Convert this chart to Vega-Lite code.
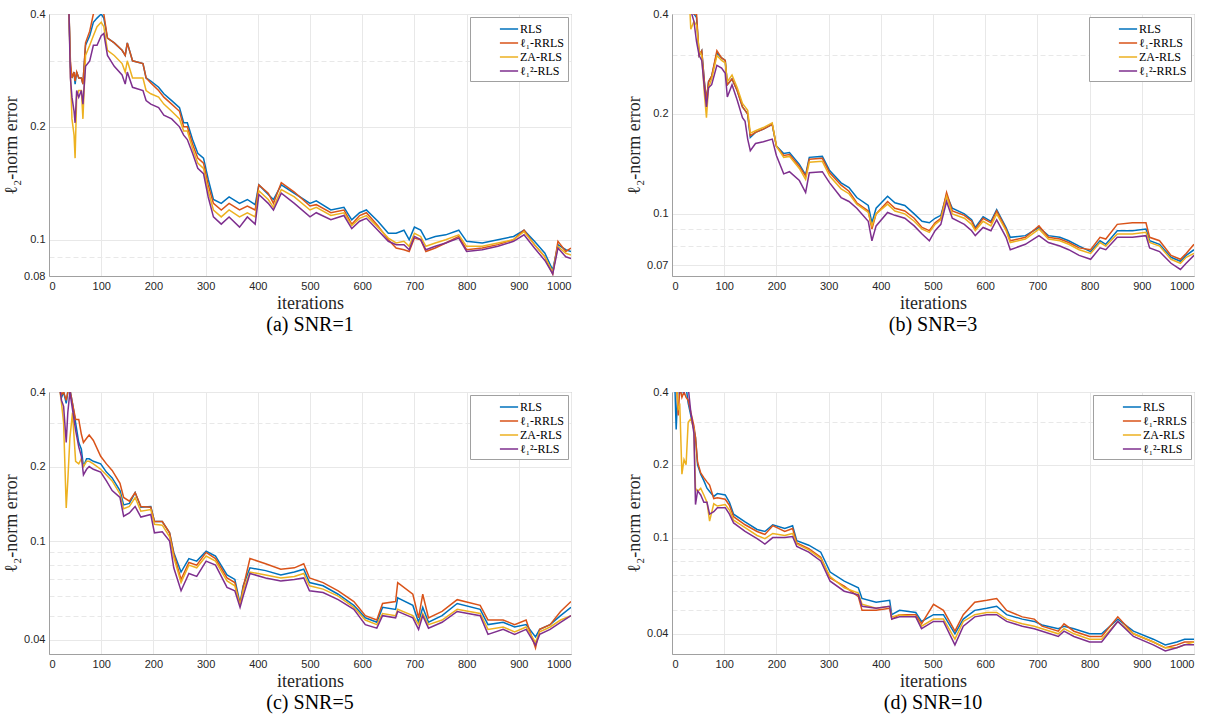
{
"$schema": "https://vega.github.io/schema/vega-lite/v6.json",
"background": "white",
"padding": {"left": 2, "top": 7, "right": 2, "bottom": 2},
"spacing": 49,
"resolve": {"scale": {"color": "independent", "y": "independent"}, "legend": {"color": "independent"}},
"config": {
 "view": {"stroke": "#a0a0a0"},
 "style": {"guide-title": {"font": "Liberation Serif", "fontSize": 18, "fontWeight": "normal", "fill": "#262626"}, "guide-label": {"font": "Liberation Sans", "fontSize": 11, "fill": "#262626"}},
 "axis": {"domainColor": "#a0a0a0", "gridColor": "#e8e8e8", "ticks": false, "labelFont": "Liberation Sans", "labelFontSize": 11, "labelColor": "#262626", "titleFont": "Liberation Serif", "titleFontSize": 18, "titleFontWeight": "normal", "titleColor": "#262626", "labelPadding": 4, "titlePadding": 3},
 "legend": {"orient": "top-right", "offset": 3, "strokeColor": "#a0a0a0", "fillColor": "white", "padding": 4, "symbolType": "M-1.3,0H1.3", "symbolSize": 196, "symbolStrokeWidth": 1.6, "symbolOffset": 27, "labelFont": "Liberation Serif", "labelFontSize": 12, "labelColor": "black", "rowPadding": 0, "labelOffset": 3},
 "title": {"orient": "bottom", "font": "Liberation Serif", "fontSize": 20, "fontWeight": "normal", "color": "black", "offset": 3, "anchor": "middle", "frame": "group"},
 "line": {"strokeWidth": 1.5, "clip": true}
},
"datasets": {
"a": [
{"x":1,"R":0.9,"O":0.9,"Z":0.9,"P":0.9},
{"x":38,"R":0.42,"O":0.42,"Z":0.42,"P":0.42},
{"x":41,"R":0.29,"O":0.3,"Z":0.28,"P":0.27},
{"x":44,"R":0.27,"O":0.27,"Z":0.21,"P":0.24},
{"x":48,"R":0.28,"O":0.28,"Z":0.19,"P":0.22},
{"x":50,"R":0.26,"O":0.265,"Z":0.165,"P":0.205},
{"x":53,"R":0.28,"O":0.28,"Z":0.24,"P":0.25},
{"x":57,"R":0.27,"O":0.27,"Z":0.25,"P":0.24},
{"x":62,"R":0.27,"O":0.27,"Z":0.25,"P":0.25},
{"x":65,"R":0.26,"O":0.26,"Z":0.21,"P":0.23},
{"x":70,"R":0.33,"O":0.335,"Z":0.31,"P":0.29},
{"x":78,"R":0.35,"O":0.36,"Z":0.33,"P":0.3},
{"x":85,"R":0.38,"O":0.4,"Z":0.35,"P":0.33},
{"x":92,"R":0.39,"O":0.41,"Z":0.37,"P":0.33},
{"x":100,"R":0.4,"O":0.41,"Z":0.38,"P":0.35},
{"x":105,"R":0.39,"O":0.4,"Z":0.37,"P":0.355},
{"x":112,"R":0.345,"O":0.345,"Z":0.32,"P":0.31},
{"x":125,"R":0.335,"O":0.335,"Z":0.31,"P":0.29},
{"x":140,"R":0.32,"O":0.32,"Z":0.295,"P":0.275},
{"x":146,"R":0.31,"O":0.31,"Z":0.28,"P":0.26},
{"x":150,"R":0.335,"O":0.335,"Z":0.3,"P":0.28},
{"x":160,"R":0.3,"O":0.3,"Z":0.27,"P":0.255},
{"x":180,"R":0.295,"O":0.295,"Z":0.27,"P":0.25},
{"x":186,"R":0.27,"O":0.27,"Z":0.25,"P":0.235},
{"x":195,"R":0.265,"O":0.262,"Z":0.245,"P":0.23},
{"x":210,"R":0.255,"O":0.25,"Z":0.24,"P":0.225},
{"x":220,"R":0.245,"O":0.24,"Z":0.23,"P":0.215},
{"x":235,"R":0.235,"O":0.23,"Z":0.22,"P":0.21},
{"x":250,"R":0.225,"O":0.22,"Z":0.21,"P":0.2},
{"x":258,"R":0.205,"O":0.2,"Z":0.195,"P":0.19},
{"x":265,"R":0.205,"O":0.2,"Z":0.195,"P":0.185},
{"x":275,"R":0.185,"O":0.18,"Z":0.175,"P":0.17},
{"x":285,"R":0.17,"O":0.165,"Z":0.16,"P":0.155},
{"x":296,"R":0.165,"O":0.16,"Z":0.155,"P":0.15},
{"x":305,"R":0.145,"O":0.14,"Z":0.135,"P":0.13},
{"x":315,"R":0.128,"O":0.125,"Z":0.12,"P":0.115},
{"x":330,"R":0.125,"O":0.12,"Z":0.115,"P":0.11},
{"x":345,"R":0.13,"O":0.125,"Z":0.12,"P":0.115},
{"x":365,"R":0.125,"O":0.12,"Z":0.115,"P":0.108},
{"x":380,"R":0.128,"O":0.123,"Z":0.118,"P":0.115},
{"x":395,"R":0.124,"O":0.12,"Z":0.115,"P":0.11},
{"x":402,"R":0.14,"O":0.14,"Z":0.135,"P":0.132},
{"x":420,"R":0.132,"O":0.133,"Z":0.128,"P":0.125},
{"x":430,"R":0.128,"O":0.125,"Z":0.122,"P":0.12},
{"x":445,"R":0.14,"O":0.142,"Z":0.136,"P":0.133},
{"x":470,"R":0.133,"O":0.134,"Z":0.13,"P":0.125},
{"x":500,"R":0.125,"O":0.123,"Z":0.12,"P":0.115},
{"x":512,"R":0.127,"O":0.124,"Z":0.122,"P":0.118},
{"x":540,"R":0.12,"O":0.118,"Z":0.116,"P":0.113},
{"x":565,"R":0.122,"O":0.12,"Z":0.118,"P":0.116},
{"x":580,"R":0.113,"O":0.11,"Z":0.109,"P":0.107},
{"x":595,"R":0.118,"O":0.116,"Z":0.114,"P":0.112},
{"x":608,"R":0.12,"O":0.118,"Z":0.116,"P":0.114},
{"x":630,"R":0.112,"O":0.109,"Z":0.108,"P":0.106},
{"x":650,"R":0.104,"O":0.1,"Z":0.101,"P":0.099},
{"x":665,"R":0.104,"O":0.095,"Z":0.098,"P":0.097},
{"x":680,"R":0.106,"O":0.094,"Z":0.099,"P":0.097},
{"x":690,"R":0.1,"O":0.093,"Z":0.096,"P":0.094},
{"x":700,"R":0.108,"O":0.101,"Z":0.104,"P":0.102},
{"x":712,"R":0.106,"O":0.1,"Z":0.102,"P":0.1},
{"x":722,"R":0.1,"O":0.093,"Z":0.096,"P":0.094},
{"x":740,"R":0.102,"O":0.095,"Z":0.098,"P":0.096},
{"x":760,"R":0.103,"O":0.098,"Z":0.1,"P":0.098},
{"x":785,"R":0.106,"O":0.102,"Z":0.103,"P":0.101},
{"x":800,"R":0.099,"O":0.094,"Z":0.096,"P":0.093},
{"x":830,"R":0.098,"O":0.095,"Z":0.096,"P":0.094},
{"x":860,"R":0.1,"O":0.097,"Z":0.098,"P":0.096},
{"x":890,"R":0.102,"O":0.1,"Z":0.1,"P":0.099},
{"x":910,"R":0.106,"O":0.106,"Z":0.105,"P":0.103},
{"x":930,"R":0.099,"O":0.097,"Z":0.097,"P":0.095},
{"x":950,"R":0.092,"O":0.09,"Z":0.09,"P":0.088},
{"x":965,"R":0.083,"O":0.081,"Z":0.082,"P":0.081},
{"x":975,"R":0.097,"O":0.099,"Z":0.096,"P":0.095},
{"x":990,"R":0.094,"O":0.093,"Z":0.092,"P":0.09},
{"x":1000,"R":0.093,"O":0.095,"Z":0.091,"P":0.089}
],
"b": [
{"x":1,"R":0.9,"O":0.9,"Z":0.9,"P":0.9},
{"x":34,"R":0.45,"O":0.45,"Z":0.42,"P":0.45},
{"x":36,"R":0.42,"O":0.42,"Z":0.36,"P":0.41},
{"x":42,"R":0.4,"O":0.4,"Z":0.38,"P":0.38},
{"x":47,"R":0.39,"O":0.4,"Z":0.37,"P":0.33},
{"x":52,"R":0.3,"O":0.3,"Z":0.31,"P":0.3},
{"x":57,"R":0.31,"O":0.31,"Z":0.3,"P":0.29},
{"x":62,"R":0.25,"O":0.25,"Z":0.23,"P":0.24},
{"x":66,"R":0.22,"O":0.22,"Z":0.195,"P":0.21},
{"x":70,"R":0.25,"O":0.25,"Z":0.24,"P":0.24},
{"x":76,"R":0.26,"O":0.26,"Z":0.255,"P":0.245},
{"x":86,"R":0.305,"O":0.31,"Z":0.3,"P":0.28},
{"x":95,"R":0.295,"O":0.295,"Z":0.29,"P":0.275},
{"x":102,"R":0.29,"O":0.29,"Z":0.285,"P":0.265},
{"x":106,"R":0.245,"O":0.245,"Z":0.25,"P":0.225},
{"x":115,"R":0.255,"O":0.255,"Z":0.262,"P":0.245},
{"x":125,"R":0.235,"O":0.235,"Z":0.24,"P":0.22},
{"x":135,"R":0.21,"O":0.21,"Z":0.215,"P":0.195},
{"x":140,"R":0.205,"O":0.205,"Z":0.21,"P":0.19},
{"x":145,"R":0.2,"O":0.2,"Z":0.205,"P":0.168},
{"x":150,"R":0.17,"O":0.172,"Z":0.175,"P":0.155},
{"x":160,"R":0.176,"O":0.176,"Z":0.178,"P":0.163},
{"x":175,"R":0.18,"O":0.18,"Z":0.182,"P":0.165},
{"x":192,"R":0.186,"O":0.186,"Z":0.188,"P":0.168},
{"x":200,"R":0.16,"O":0.16,"Z":0.16,"P":0.15},
{"x":214,"R":0.152,"O":0.15,"Z":0.148,"P":0.132},
{"x":225,"R":0.153,"O":0.151,"Z":0.149,"P":0.134},
{"x":244,"R":0.141,"O":0.139,"Z":0.137,"P":0.126},
{"x":256,"R":0.131,"O":0.13,"Z":0.127,"P":0.116},
{"x":263,"R":0.148,"O":0.146,"Z":0.143,"P":0.133},
{"x":288,"R":0.149,"O":0.147,"Z":0.144,"P":0.134},
{"x":302,"R":0.135,"O":0.133,"Z":0.13,"P":0.124},
{"x":324,"R":0.124,"O":0.122,"Z":0.119,"P":0.112},
{"x":339,"R":0.12,"O":0.117,"Z":0.115,"P":0.109},
{"x":354,"R":0.112,"O":0.108,"Z":0.107,"P":0.104},
{"x":376,"R":0.106,"O":0.102,"Z":0.101,"P":0.095},
{"x":383,"R":0.094,"O":0.09,"Z":0.092,"P":0.083},
{"x":391,"R":0.104,"O":0.1,"Z":0.1,"P":0.092},
{"x":413,"R":0.113,"O":0.109,"Z":0.107,"P":0.101},
{"x":427,"R":0.108,"O":0.104,"Z":0.102,"P":0.099},
{"x":446,"R":0.106,"O":0.102,"Z":0.1,"P":0.097},
{"x":464,"R":0.1,"O":0.097,"Z":0.095,"P":0.092},
{"x":479,"R":0.095,"O":0.091,"Z":0.09,"P":0.087},
{"x":493,"R":0.094,"O":0.089,"Z":0.088,"P":0.083},
{"x":504,"R":0.097,"O":0.094,"Z":0.093,"P":0.089},
{"x":515,"R":0.099,"O":0.097,"Z":0.096,"P":0.093},
{"x":526,"R":0.114,"O":0.116,"Z":0.113,"P":0.109},
{"x":537,"R":0.104,"O":0.102,"Z":0.1,"P":0.097},
{"x":560,"R":0.1,"O":0.099,"Z":0.097,"P":0.093},
{"x":574,"R":0.096,"O":0.095,"Z":0.093,"P":0.089},
{"x":581,"R":0.091,"O":0.09,"Z":0.089,"P":0.086},
{"x":596,"R":0.098,"O":0.097,"Z":0.095,"P":0.091},
{"x":611,"R":0.095,"O":0.094,"Z":0.092,"P":0.089},
{"x":622,"R":0.103,"O":0.102,"Z":0.1,"P":0.096},
{"x":640,"R":0.091,"O":0.09,"Z":0.089,"P":0.085},
{"x":648,"R":0.085,"O":0.083,"Z":0.082,"P":0.078},
{"x":677,"R":0.086,"O":0.085,"Z":0.084,"P":0.081},
{"x":703,"R":0.091,"O":0.092,"Z":0.09,"P":0.086},
{"x":721,"R":0.086,"O":0.085,"Z":0.084,"P":0.082},
{"x":743,"R":0.085,"O":0.084,"Z":0.083,"P":0.08},
{"x":760,"R":0.083,"O":0.082,"Z":0.081,"P":0.078},
{"x":780,"R":0.08,"O":0.079,"Z":0.078,"P":0.075},
{"x":802,"R":0.077,"O":0.078,"Z":0.076,"P":0.073},
{"x":820,"R":0.083,"O":0.085,"Z":0.082,"P":0.079},
{"x":831,"R":0.081,"O":0.084,"Z":0.08,"P":0.078},
{"x":853,"R":0.089,"O":0.093,"Z":0.087,"P":0.085},
{"x":882,"R":0.089,"O":0.094,"Z":0.087,"P":0.085},
{"x":908,"R":0.09,"O":0.094,"Z":0.088,"P":0.086},
{"x":915,"R":0.083,"O":0.085,"Z":0.082,"P":0.079},
{"x":934,"R":0.081,"O":0.083,"Z":0.08,"P":0.077},
{"x":956,"R":0.074,"O":0.075,"Z":0.073,"P":0.071},
{"x":974,"R":0.072,"O":0.073,"Z":0.071,"P":0.068},
{"x":985,"R":0.075,"O":0.076,"Z":0.074,"P":0.071},
{"x":1000,"R":0.078,"O":0.081,"Z":0.076,"P":0.075}
],
"c": [
{"x":1,"R":0.9,"O":0.9,"Z":0.9,"P":0.9},
{"x":20,"R":0.42,"O":0.42,"Z":0.42,"P":0.42},
{"x":24,"R":0.38,"O":0.39,"Z":0.36,"P":0.37},
{"x":28,"R":0.4,"O":0.4,"Z":0.3,"P":0.35},
{"x":33,"R":0.36,"O":0.37,"Z":0.136,"P":0.25},
{"x":36,"R":0.4,"O":0.4,"Z":0.175,"P":0.33},
{"x":40,"R":0.41,"O":0.41,"Z":0.26,"P":0.4},
{"x":45,"R":0.36,"O":0.36,"Z":0.33,"P":0.34},
{"x":51,"R":0.3,"O":0.31,"Z":0.21,"P":0.28},
{"x":57,"R":0.25,"O":0.31,"Z":0.205,"P":0.24},
{"x":62,"R":0.235,"O":0.27,"Z":0.215,"P":0.22},
{"x":66,"R":0.2,"O":0.25,"Z":0.2,"P":0.185},
{"x":72,"R":0.215,"O":0.26,"Z":0.21,"P":0.195},
{"x":77,"R":0.215,"O":0.268,"Z":0.21,"P":0.2},
{"x":85,"R":0.21,"O":0.255,"Z":0.205,"P":0.195},
{"x":99,"R":0.205,"O":0.22,"Z":0.195,"P":0.19},
{"x":110,"R":0.19,"O":0.205,"Z":0.185,"P":0.175},
{"x":121,"R":0.18,"O":0.193,"Z":0.175,"P":0.16},
{"x":136,"R":0.16,"O":0.171,"Z":0.155,"P":0.15},
{"x":143,"R":0.14,"O":0.15,"Z":0.135,"P":0.126},
{"x":154,"R":0.142,"O":0.145,"Z":0.138,"P":0.13},
{"x":165,"R":0.157,"O":0.157,"Z":0.15,"P":0.138},
{"x":176,"R":0.137,"O":0.138,"Z":0.132,"P":0.125},
{"x":195,"R":0.138,"O":0.137,"Z":0.134,"P":0.128},
{"x":202,"R":0.12,"O":0.12,"Z":0.117,"P":0.108},
{"x":217,"R":0.12,"O":0.12,"Z":0.116,"P":0.109},
{"x":231,"R":0.108,"O":0.108,"Z":0.104,"P":0.1},
{"x":239,"R":0.09,"O":0.089,"Z":0.086,"P":0.078},
{"x":253,"R":0.075,"O":0.07,"Z":0.068,"P":0.063},
{"x":268,"R":0.085,"O":0.082,"Z":0.08,"P":0.074},
{"x":283,"R":0.083,"O":0.08,"Z":0.078,"P":0.072},
{"x":301,"R":0.091,"O":0.09,"Z":0.087,"P":0.083},
{"x":319,"R":0.087,"O":0.085,"Z":0.083,"P":0.08},
{"x":341,"R":0.073,"O":0.071,"Z":0.069,"P":0.065},
{"x":356,"R":0.07,"O":0.068,"Z":0.066,"P":0.063},
{"x":366,"R":0.056,"O":0.055,"Z":0.055,"P":0.054},
{"x":372,"R":0.066,"O":0.065,"Z":0.063,"P":0.06},
{"x":385,"R":0.078,"O":0.085,"Z":0.075,"P":0.074},
{"x":415,"R":0.076,"O":0.081,"Z":0.073,"P":0.071},
{"x":444,"R":0.073,"O":0.077,"Z":0.071,"P":0.069},
{"x":470,"R":0.075,"O":0.078,"Z":0.072,"P":0.07},
{"x":488,"R":0.077,"O":0.081,"Z":0.074,"P":0.071},
{"x":499,"R":0.068,"O":0.071,"Z":0.066,"P":0.063},
{"x":525,"R":0.066,"O":0.068,"Z":0.064,"P":0.062},
{"x":554,"R":0.061,"O":0.063,"Z":0.06,"P":0.058},
{"x":584,"R":0.055,"O":0.057,"Z":0.054,"P":0.053},
{"x":606,"R":0.049,"O":0.05,"Z":0.048,"P":0.046},
{"x":628,"R":0.047,"O":0.048,"Z":0.046,"P":0.0445},
{"x":639,"R":0.054,"O":0.056,"Z":0.051,"P":0.05},
{"x":664,"R":0.053,"O":0.057,"Z":0.05,"P":0.049},
{"x":668,"R":0.059,"O":0.068,"Z":0.053,"P":0.052},
{"x":697,"R":0.055,"O":0.061,"Z":0.05,"P":0.049},
{"x":708,"R":0.047,"O":0.049,"Z":0.046,"P":0.044},
{"x":716,"R":0.054,"O":0.061,"Z":0.051,"P":0.05},
{"x":727,"R":0.047,"O":0.049,"Z":0.046,"P":0.0445},
{"x":753,"R":0.05,"O":0.052,"Z":0.048,"P":0.047},
{"x":782,"R":0.056,"O":0.058,"Z":0.053,"P":0.052},
{"x":826,"R":0.053,"O":0.055,"Z":0.051,"P":0.05},
{"x":841,"R":0.046,"O":0.048,"Z":0.044,"P":0.042},
{"x":870,"R":0.047,"O":0.048,"Z":0.045,"P":0.044},
{"x":892,"R":0.045,"O":0.046,"Z":0.043,"P":0.042},
{"x":914,"R":0.046,"O":0.048,"Z":0.045,"P":0.044},
{"x":932,"R":0.041,"O":0.037,"Z":0.039,"P":0.038},
{"x":940,"R":0.044,"O":0.044,"Z":0.043,"P":0.042},
{"x":960,"R":0.046,"O":0.046,"Z":0.045,"P":0.044},
{"x":980,"R":0.05,"O":0.052,"Z":0.048,"P":0.047},
{"x":1000,"R":0.054,"O":0.057,"Z":0.05,"P":0.05}
],
"d": [
{"x":1,"R":0.9,"O":0.9,"Z":0.9,"P":0.9},
{"x":8,"R":0.28,"O":0.45,"Z":0.45,"P":0.45},
{"x":12,"R":0.45,"O":0.32,"Z":0.34,"P":0.45},
{"x":15,"R":0.42,"O":0.42,"Z":0.35,"P":0.4},
{"x":19,"R":0.4,"O":0.38,"Z":0.183,"P":0.42},
{"x":23,"R":0.42,"O":0.4,"Z":0.21,"P":0.4},
{"x":27,"R":0.42,"O":0.38,"Z":0.2,"P":0.42},
{"x":31,"R":0.36,"O":0.37,"Z":0.3,"P":0.42},
{"x":36,"R":0.32,"O":0.33,"Z":0.31,"P":0.33},
{"x":42,"R":0.28,"O":0.29,"Z":0.28,"P":0.27},
{"x":45,"R":0.26,"O":0.26,"Z":0.16,"P":0.137},
{"x":49,"R":0.2,"O":0.205,"Z":0.155,"P":0.156},
{"x":55,"R":0.183,"O":0.185,"Z":0.16,"P":0.15},
{"x":61,"R":0.172,"O":0.177,"Z":0.15,"P":0.14},
{"x":67,"R":0.16,"O":0.17,"Z":0.14,"P":0.14},
{"x":72,"R":0.155,"O":0.165,"Z":0.117,"P":0.125},
{"x":80,"R":0.148,"O":0.145,"Z":0.138,"P":0.128},
{"x":87,"R":0.152,"O":0.146,"Z":0.135,"P":0.133},
{"x":102,"R":0.15,"O":0.144,"Z":0.137,"P":0.133},
{"x":110,"R":0.14,"O":0.136,"Z":0.13,"P":0.125},
{"x":118,"R":0.125,"O":0.122,"Z":0.118,"P":0.115},
{"x":140,"R":0.116,"O":0.113,"Z":0.11,"P":0.106},
{"x":163,"R":0.108,"O":0.106,"Z":0.102,"P":0.099},
{"x":178,"R":0.106,"O":0.103,"Z":0.099,"P":0.094},
{"x":193,"R":0.113,"O":0.112,"Z":0.104,"P":0.1},
{"x":216,"R":0.109,"O":0.106,"Z":0.102,"P":0.1},
{"x":231,"R":0.112,"O":0.109,"Z":0.104,"P":0.101},
{"x":239,"R":0.097,"O":0.095,"Z":0.094,"P":0.092},
{"x":262,"R":0.093,"O":0.09,"Z":0.089,"P":0.087},
{"x":285,"R":0.087,"O":0.083,"Z":0.082,"P":0.08},
{"x":303,"R":0.072,"O":0.068,"Z":0.069,"P":0.066},
{"x":330,"R":0.066,"O":0.063,"Z":0.062,"P":0.06},
{"x":357,"R":0.062,"O":0.057,"Z":0.059,"P":0.058},
{"x":364,"R":0.056,"O":0.05,"Z":0.053,"P":0.052},
{"x":391,"R":0.054,"O":0.05,"Z":0.051,"P":0.051},
{"x":417,"R":0.055,"O":0.051,"Z":0.052,"P":0.052},
{"x":421,"R":0.048,"O":0.046,"Z":0.047,"P":0.046},
{"x":436,"R":0.05,"O":0.048,"Z":0.048,"P":0.047},
{"x":467,"R":0.049,"O":0.048,"Z":0.047,"P":0.047},
{"x":478,"R":0.045,"O":0.044,"Z":0.043,"P":0.042},
{"x":501,"R":0.048,"O":0.053,"Z":0.046,"P":0.045},
{"x":520,"R":0.048,"O":0.05,"Z":0.046,"P":0.045},
{"x":542,"R":0.04,"O":0.041,"Z":0.038,"P":0.036},
{"x":558,"R":0.046,"O":0.048,"Z":0.045,"P":0.043},
{"x":580,"R":0.05,"O":0.054,"Z":0.048,"P":0.047},
{"x":603,"R":0.051,"O":0.055,"Z":0.049,"P":0.048},
{"x":622,"R":0.052,"O":0.056,"Z":0.049,"P":0.048},
{"x":641,"R":0.048,"O":0.05,"Z":0.046,"P":0.045},
{"x":671,"R":0.046,"O":0.047,"Z":0.044,"P":0.043},
{"x":694,"R":0.045,"O":0.046,"Z":0.043,"P":0.042},
{"x":709,"R":0.0435,"O":0.043,"Z":0.042,"P":0.041},
{"x":740,"R":0.042,"O":0.041,"Z":0.04,"P":0.039},
{"x":751,"R":0.043,"O":0.044,"Z":0.042,"P":0.041},
{"x":770,"R":0.042,"O":0.041,"Z":0.04,"P":0.039},
{"x":800,"R":0.04,"O":0.039,"Z":0.038,"P":0.037},
{"x":823,"R":0.04,"O":0.039,"Z":0.038,"P":0.037},
{"x":854,"R":0.046,"O":0.047,"Z":0.045,"P":0.045},
{"x":884,"R":0.041,"O":0.04,"Z":0.04,"P":0.039},
{"x":922,"R":0.038,"O":0.037,"Z":0.037,"P":0.036},
{"x":945,"R":0.036,"O":0.035,"Z":0.035,"P":0.034},
{"x":967,"R":0.037,"O":0.036,"Z":0.035,"P":0.035},
{"x":982,"R":0.038,"O":0.037,"Z":0.036,"P":0.036},
{"x":1000,"R":0.038,"O":0.037,"Z":0.037,"P":0.036}
]
},
"vconcat": [
{"spacing": 53, "resolve": {"scale": {"color": "independent", "y": "independent"}, "legend": {"color": "independent"}}, "hconcat": [
{"width": 522, "height": 262, "data": {"name": "a"}, "title": "(a) SNR=1",
 "transform": [{"fold": ["R","O","Z","P"], "as": ["s","v"]}],
 "mark": {"type": "line", "clip": true},
 "encoding": {
  "x": {"field": "x", "type": "quantitative", "scale": {"domain": [0,1000], "nice": false}, "axis": {"values": [0,100,200,300,400,500,600,700,800,900,1000], "format": "d", "title": "iterations", "titleFont": "Liberation Serif", "titleFontSize": 18, "titleFontWeight": "normal"}},
  "y": {"field": "v", "type": "quantitative", "scale": {"type": "log", "domain": [0.08,0.4], "nice": false}, "axis": {"values": [0.08,0.09,0.1,0.2,0.3,0.4], "format": ".2~f", "labelExpr": "datum.value==0.09||datum.value==0.3?'':datum.label", "gridDash": {"condition": {"test": "datum.value==0.09||datum.value==0.3", "value": [5,3]}, "value": []}, "title": "ℓ₂-norm error", "titleFont": "Liberation Serif", "titleFontSize": 18, "titleFontWeight": "normal"}},
  "color": {"field": "s", "type": "nominal", "scale": {"domain": ["R","O","Z","P"], "range": ["#0072BD","#D95319","#EDB120","#7E2F8E"]}, "legend": {"title": null, "orient": "top-right", "labelExpr": "datum.label=='R'?'RLS':datum.label=='O'?'ℓ₁-RRLS':datum.label=='Z'?'ZA-RLS':'ℓ₁²-RLS'"}}
 }},
{"width": 522, "height": 262, "data": {"name": "b"}, "title": "(b) SNR=3",
 "transform": [{"fold": ["R","O","Z","P"], "as": ["s","v"]}],
 "mark": {"type": "line", "clip": true},
 "encoding": {
  "x": {"field": "x", "type": "quantitative", "scale": {"domain": [0,1000], "nice": false}, "axis": {"values": [0,100,200,300,400,500,600,700,800,900,1000], "format": "d", "title": "iterations", "titleFont": "Liberation Serif", "titleFontSize": 18, "titleFontWeight": "normal"}},
  "y": {"field": "v", "type": "quantitative", "scale": {"type": "log", "domain": [0.065,0.4], "nice": false}, "axis": {"values": [0.07,0.08,0.09,0.1,0.2,0.3,0.4], "format": ".2~f", "labelExpr": "datum.value==0.08||datum.value==0.09||datum.value==0.3?'':datum.label", "gridDash": {"condition": {"test": "datum.value==0.08||datum.value==0.09||datum.value==0.3", "value": [5,3]}, "value": []}, "title": "ℓ₂-norm error", "titleFont": "Liberation Serif", "titleFontSize": 18, "titleFontWeight": "normal"}},
  "color": {"field": "s", "type": "nominal", "scale": {"domain": ["R","O","Z","P"], "range": ["#0072BD","#D95319","#EDB120","#7E2F8E"]}, "legend": {"title": null, "orient": "top-right", "labelExpr": "datum.label=='R'?'RLS':datum.label=='O'?'ℓ₁-RRLS':datum.label=='Z'?'ZA-RLS':'ℓ₁²-RRLS'"}}
 }}
]},
{"spacing": 53, "resolve": {"scale": {"color": "independent", "y": "independent"}, "legend": {"color": "independent"}}, "hconcat": [
{"width": 522, "height": 262, "data": {"name": "c"}, "title": "(c) SNR=5",
 "transform": [{"fold": ["R","O","Z","P"], "as": ["s","v"]}],
 "mark": {"type": "line", "clip": true},
 "encoding": {
  "x": {"field": "x", "type": "quantitative", "scale": {"domain": [0,1000], "nice": false}, "axis": {"values": [0,100,200,300,400,500,600,700,800,900,1000], "format": "d", "title": "iterations", "titleFont": "Liberation Serif", "titleFontSize": 18, "titleFontWeight": "normal"}},
  "y": {"field": "v", "type": "quantitative", "scale": {"type": "log", "domain": [0.035,0.4], "nice": false}, "axis": {"values": [0.04,0.05,0.06,0.07,0.08,0.09,0.1,0.2,0.3,0.4], "format": ".2~f", "labelExpr": "datum.value==0.04||datum.value==0.1||datum.value==0.2||datum.value==0.4?datum.label:''", "gridDash": {"condition": {"test": "datum.value==0.04||datum.value==0.1||datum.value==0.2||datum.value==0.4", "value": []}, "value": [5,3]}, "title": "ℓ₂-norm error", "titleFont": "Liberation Serif", "titleFontSize": 18, "titleFontWeight": "normal"}},
  "color": {"field": "s", "type": "nominal", "scale": {"domain": ["R","O","Z","P"], "range": ["#0072BD","#D95319","#EDB120","#7E2F8E"]}, "legend": {"title": null, "orient": "top-right", "labelExpr": "datum.label=='R'?'RLS':datum.label=='O'?'ℓ₁-RRLS':datum.label=='Z'?'ZA-RLS':'ℓ₁²-RLS'"}}
 }},
{"width": 522, "height": 262, "data": {"name": "d"}, "title": "(d) SNR=10",
 "transform": [{"fold": ["R","O","Z","P"], "as": ["s","v"]}],
 "mark": {"type": "line", "clip": true},
 "encoding": {
  "x": {"field": "x", "type": "quantitative", "scale": {"domain": [0,1000], "nice": false}, "axis": {"values": [0,100,200,300,400,500,600,700,800,900,1000], "format": "d", "title": "iterations", "titleFont": "Liberation Serif", "titleFontSize": 18, "titleFontWeight": "normal"}},
  "y": {"field": "v", "type": "quantitative", "scale": {"type": "log", "domain": [0.033,0.4], "nice": false}, "axis": {"values": [0.04,0.05,0.06,0.07,0.08,0.09,0.1,0.2,0.3,0.4], "format": ".2~f", "labelExpr": "datum.value==0.04||datum.value==0.1||datum.value==0.2||datum.value==0.4?datum.label:''", "gridDash": {"condition": {"test": "datum.value==0.04||datum.value==0.1||datum.value==0.2||datum.value==0.4", "value": []}, "value": [5,3]}, "title": "ℓ₂-norm error", "titleFont": "Liberation Serif", "titleFontSize": 18, "titleFontWeight": "normal"}},
  "color": {"field": "s", "type": "nominal", "scale": {"domain": ["R","O","Z","P"], "range": ["#0072BD","#D95319","#EDB120","#7E2F8E"]}, "legend": {"title": null, "orient": "top-right", "labelExpr": "datum.label=='R'?'RLS':datum.label=='O'?'ℓ₁-RRLS':datum.label=='Z'?'ZA-RLS':'ℓ₁²-RLS'"}}
 }}
]}
]
}
